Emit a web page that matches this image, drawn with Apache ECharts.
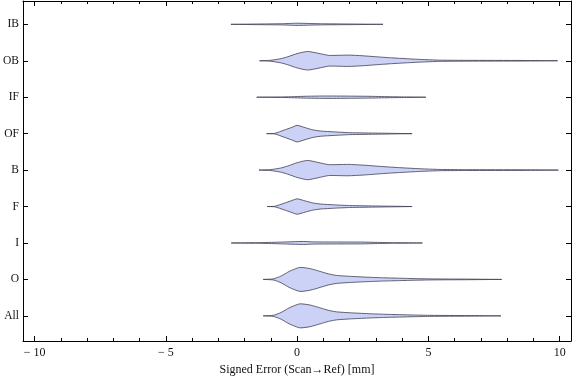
<!DOCTYPE html>
<html><head><meta charset="utf-8">
<script src="https://cdn.jsdelivr.net/npm/echarts@6/dist/echarts.min.js"></script>
<style>html,body{margin:0;padding:0;background:#fff}#c{width:576px;height:381px}</style>
</head><body><div id="c"></div>
<script>
// Categories top to bottom
const categories = ['IB', 'OB', 'IF', 'OF', 'B', 'F', 'I', 'O', 'All'];
const xMajorTicks = [-10, -5, 0, 5, 10];
const xMinorTicks = [-9, -8, -7, -6, -4, -3, -2, -1, 1, 2, 3, 4, 6, 7, 8, 9];

// Violin profiles: error value (mm) and half-width (fraction of category spacing)
const x_IB = [-2.52, -1.6, -0.6, 0.0, 0.5, 1.0, 2.15, 3.27];
const w_IB = [0, 0.008, 0.016, 0.030, 0.022, 0.014, 0.008, 0];

const x_OB = [-1.43, -1.0, -0.6, -0.3, 0.0, 0.4, 0.8, 1.2, 1.6, 1.95, 2.5, 3.0, 3.6, 4.2, 4.8, 5.5, 6.5, 8.6, 9.92];
const w_OB = [0, 0.014, 0.060, 0.123, 0.197, 0.255, 0.206, 0.148, 0.150, 0.156, 0.137, 0.110, 0.080, 0.055, 0.033, 0.016, 0.011, 0.008, 0];

const x_IF = [-1.54, -0.5, 0.3, 1.0, 2.0, 2.7, 3.5, 4.1, 4.9];
const w_IF = [0, 0.008, 0.025, 0.033, 0.030, 0.025, 0.014, 0.008, 0];

const x_OF = [-1.16, -0.85, -0.5, -0.2, 0.0, 0.3, 0.6, 0.9, 1.4, 2.0, 3.1, 4.38];
const w_OF = [0, 0.008, 0.096, 0.173, 0.228, 0.165, 0.104, 0.071, 0.049, 0.027, 0.014, 0];

const x_B = [-1.45, -1.0, -0.6, -0.3, 0.0, 0.4, 0.8, 1.2, 1.6, 1.95, 2.5, 3.0, 3.6, 4.2, 4.8, 5.5, 6.5, 8.6, 9.95];
const w_B = [0, 0.014, 0.060, 0.126, 0.203, 0.265, 0.210, 0.150, 0.152, 0.156, 0.137, 0.110, 0.080, 0.055, 0.033, 0.016, 0.011, 0.008, 0];

const x_F = [-1.14, -0.85, -0.5, -0.2, 0.0, 0.3, 0.6, 0.9, 1.4, 2.0, 3.1, 4.38];
const w_F = [0, 0.008, 0.090, 0.165, 0.211, 0.155, 0.098, 0.068, 0.046, 0.027, 0.014, 0];

const x_I = [-2.51, -1.5, -0.7, 0.0, 0.3, 0.6, 1.5, 2.5, 3.0, 3.7, 4.77];
const w_I = [0, 0.008, 0.022, 0.038, 0.041, 0.030, 0.027, 0.025, 0.016, 0.008, 0];

const x_O = [-1.29, -0.9, -0.6, -0.3, 0.1, 0.5, 0.9, 1.2, 1.5, 2.0, 2.7, 3.3, 3.9, 4.5, 5.1, 6.5, 7.79];
const w_O = [0, 0.016, 0.096, 0.220, 0.329, 0.296, 0.214, 0.151, 0.110, 0.085, 0.060, 0.044, 0.033, 0.022, 0.014, 0.008, 0];

const x_All = [-1.29, -0.9, -0.6, -0.3, 0.1, 0.5, 0.9, 1.2, 1.5, 2.0, 2.7, 3.3, 3.9, 4.5, 5.1, 6.5, 7.76];
const w_All = [0, 0.016, 0.096, 0.220, 0.329, 0.296, 0.214, 0.151, 0.110, 0.085, 0.060, 0.044, 0.033, 0.022, 0.014, 0.008, 0];

const profileX = [x_IB, x_OB, x_IF, x_OF, x_B, x_F, x_I, x_O, x_All];
const profileW = [w_IB, w_OB, w_IF, w_OF, w_B, w_F, w_I, w_O, w_All];

const FONT = '"Liberation Serif", "DejaVu Serif", serif';
const XMIN = -10.44, XMAX = 10.43;
const YMIN = -0.64, YMAX = 8.69;

function xAxisDef(pos, ticks, len, showLine, showLabel) {
  return {
    type: 'value', position: pos, min: XMIN, max: XMAX,
    axisLine: { show: showLine, onZero: false, lineStyle: { color: '#000', width: 1 } },
    axisTick: { show: true, inside: true, length: len, customValues: ticks, lineStyle: { color: '#000', width: 1 } },
    axisLabel: showLabel ? {
      show: true, customValues: xMajorTicks, margin: 6,
      fontFamily: FONT, fontSize: 12, color: '#111',
      formatter: v => v < 0 ? '\u2212 ' + Math.abs(v) : String(v)
    } : { show: false },
    splitLine: { show: false },
    name: showLabel ? 'Signed Error (Scan\u2192Ref) [mm]' : '',
    nameLocation: 'middle', nameGap: 23,
    nameTextStyle: { fontFamily: FONT, fontSize: 12, color: '#111' }
  };
}
function yAxisDef(pos, showLabel) {
  return {
    type: 'value', position: pos, min: YMIN, max: YMAX, inverse: true,
    axisLine: { show: true, onZero: false, lineStyle: { color: '#000', width: 1 } },
    axisTick: { show: true, inside: true, length: 5, customValues: categories.map((c, i) => i), lineStyle: { color: '#000', width: 1 } },
    axisLabel: showLabel ? {
      show: true, customValues: categories.map((c, i) => i), margin: 4,
      fontFamily: FONT, fontSize: 11.5, color: '#111',
      formatter: v => categories[Math.round(v)]
    } : { show: false },
    splitLine: { show: false }
  };
}

const chart = echarts.init(document.getElementById('c'), null, { renderer: 'canvas' });
chart.setOption({
  animation: false,
  backgroundColor: '#fff',
  grid: { left: 20, right: 5, top: 1, bottom: 40, containLabel: false },
  xAxis: [
    xAxisDef('bottom', xMajorTicks, 5, true, true),
    xAxisDef('top', xMajorTicks, 5, true, false),
    xAxisDef('bottom', xMinorTicks, 3, false, false),
    xAxisDef('top', xMinorTicks, 3, false, false)
  ],
  yAxis: [
    yAxisDef('left', true),
    yAxisDef('right', false)
  ],
  series: [{
    type: 'custom',
    xAxisIndex: 0, yAxisIndex: 0,
    data: categories.map((c, i) => [0, i]),
    encode: { x: 0, y: 1 },
    renderItem: function (params, api) {
      const i = params.dataIndex;
      const xs = profileX[i], ws = profileW[i];
      const top = [], bot = [];
      for (let k = 0; k < xs.length; k++) {
        top.push(api.coord([xs[k], i - ws[k]]));
        bot.push(api.coord([xs[k], i + ws[k]]));
      }
      const pts = top.concat(bot.reverse());
      return {
        type: 'polygon',
        shape: { points: pts, smooth: 0.2 },
        style: { fill: '#ccd2f5', stroke: 'rgba(65,65,85,0.9)', lineWidth: 0.9 }
      };
    }
  }]
});
</script>
</body></html>
